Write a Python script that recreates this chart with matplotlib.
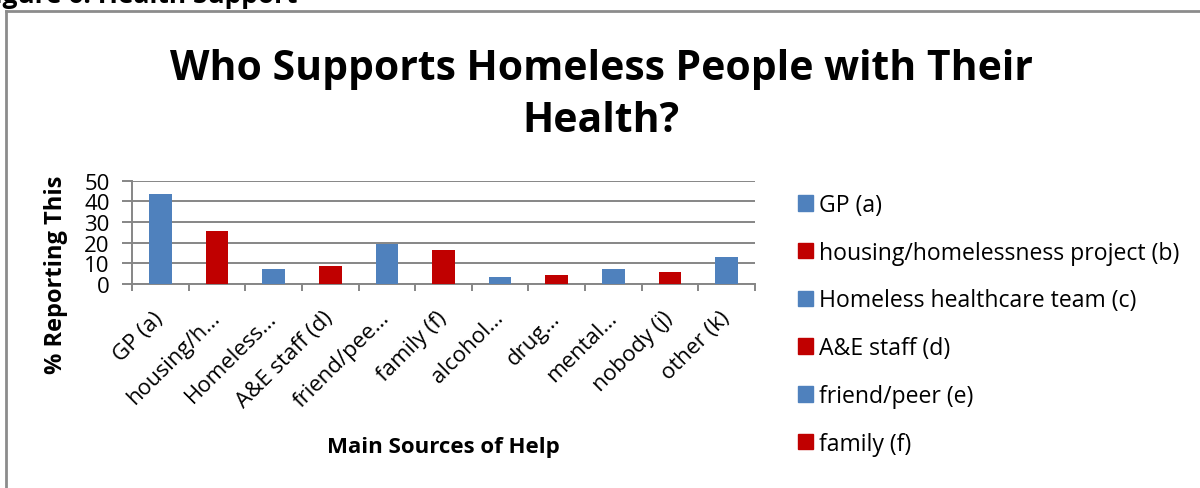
import matplotlib.pyplot as plt
from matplotlib.patches import Patch
from matplotlib.lines import Line2D

plt.rcParams["font.family"] = ["Open Sans", "DejaVu Sans"]

BLUE = "#4F81BD"
RED = "#C00000"
GRID = "#868686"

tick_labels = ["GP (a)", "housing/h…", "Homeless…", "A&E staff (d)", "friend/pee…",
               "family (f)", "alcohol…", "drug…", "mental…", "nobody (j)", "other (k)"]
legend_names = ["GP (a)", "housing/homelessness project (b)", "Homeless healthcare team (c)",
                "A&E staff (d)", "friend/peer (e)", "family (f)"]
percent = [43.5, 25.6, 7.3, 8.7, 19.5, 16.4, 3.5, 4.4, 7.3, 5.8, 13.1]
bar_colors = [BLUE, RED] * 5 + [BLUE]

W, H = 1200, 489
fig = plt.figure(figsize=(W / 100, H / 100), dpi=100)


def fx(px):
    return px / W


def fy(py):
    return 1 - py / H


# caption above the chart box, mostly cut off by the page edge
fig.text(fx(297), fy(3), "Figure 6: Health Support", ha="right", va="baseline",
         fontsize=19, fontweight="bold")

# chart box (left and top edges visible)
fig.add_artist(Line2D([fx(6), fx(6)], [0, fy(11.5)], transform=fig.transFigure,
                      color="#8c8c8c", lw=2))
fig.add_artist(Line2D([fx(6), 1], [fy(11.5), fy(11.5)], transform=fig.transFigure,
                      color="#8c8c8c", lw=2))

fig.text(fx(601), fy(70), "Who Supports Homeless People with Their", ha="center", va="center",
         fontsize=29.4, fontweight="bold")
fig.text(fx(601), fy(121), "Health?", ha="center", va="center",
         fontsize=29.4, fontweight="bold")

ax = fig.add_axes([fx(132), fy(285), (755 - 132) / W, (285 - 181.7) / H])
x = list(range(len(percent)))
ax.bar(x, percent, width=0.4, color=bar_colors, zorder=3)

ax.set_xlim(-0.5, len(percent) - 0.5)
ax.set_ylim(0, 50)
ax.set_yticks(range(0, 51, 10))
ax.yaxis.grid(True, color=GRID, lw=1.4)
ax.set_axisbelow(True)
for side in ("top", "right"):
    ax.spines[side].set_visible(False)
for side in ("left", "bottom"):
    ax.spines[side].set_color(GRID)
    ax.spines[side].set_linewidth(1.4)

# boundaries between categories carry the tick marks, centres carry the labels
ax.set_xticks([i + 0.5 for i in range(-1, len(percent))])
ax.set_xticklabels([])
ax.set_xticks(x, minor=True)
ax.set_xticklabels(tick_labels, minor=True, rotation=45, ha="right", va="center",
                   rotation_mode="anchor", fontsize=16)
ax.tick_params(axis="x", which="major", length=5, color=GRID, width=1.4)
ax.tick_params(axis="x", which="minor", length=0, pad=22)
ax.tick_params(axis="y", length=7, color=GRID, width=1.4, labelsize=16, pad=9)

fig.text(fx(56), fy(275), "% Reporting This", rotation=90, ha="center", va="center",
         fontsize=17, fontweight="bold")
fig.text(fx(443), fy(448), "Main Sources of Help", ha="center", va="center",
         fontsize=16, fontweight="bold")

handles = [Patch(color=c) for c in bar_colors[:len(legend_names)]]
fig.legend(handles, legend_names, loc="upper left", bbox_to_anchor=(fx(798), fy(194)),
           frameon=False, fontsize=16.6, handlelength=0.65, handleheight=0.65,
           handletextpad=0.27, labelspacing=1.03, borderpad=0, borderaxespad=0)

fig.savefig("out.png", dpi=100)
